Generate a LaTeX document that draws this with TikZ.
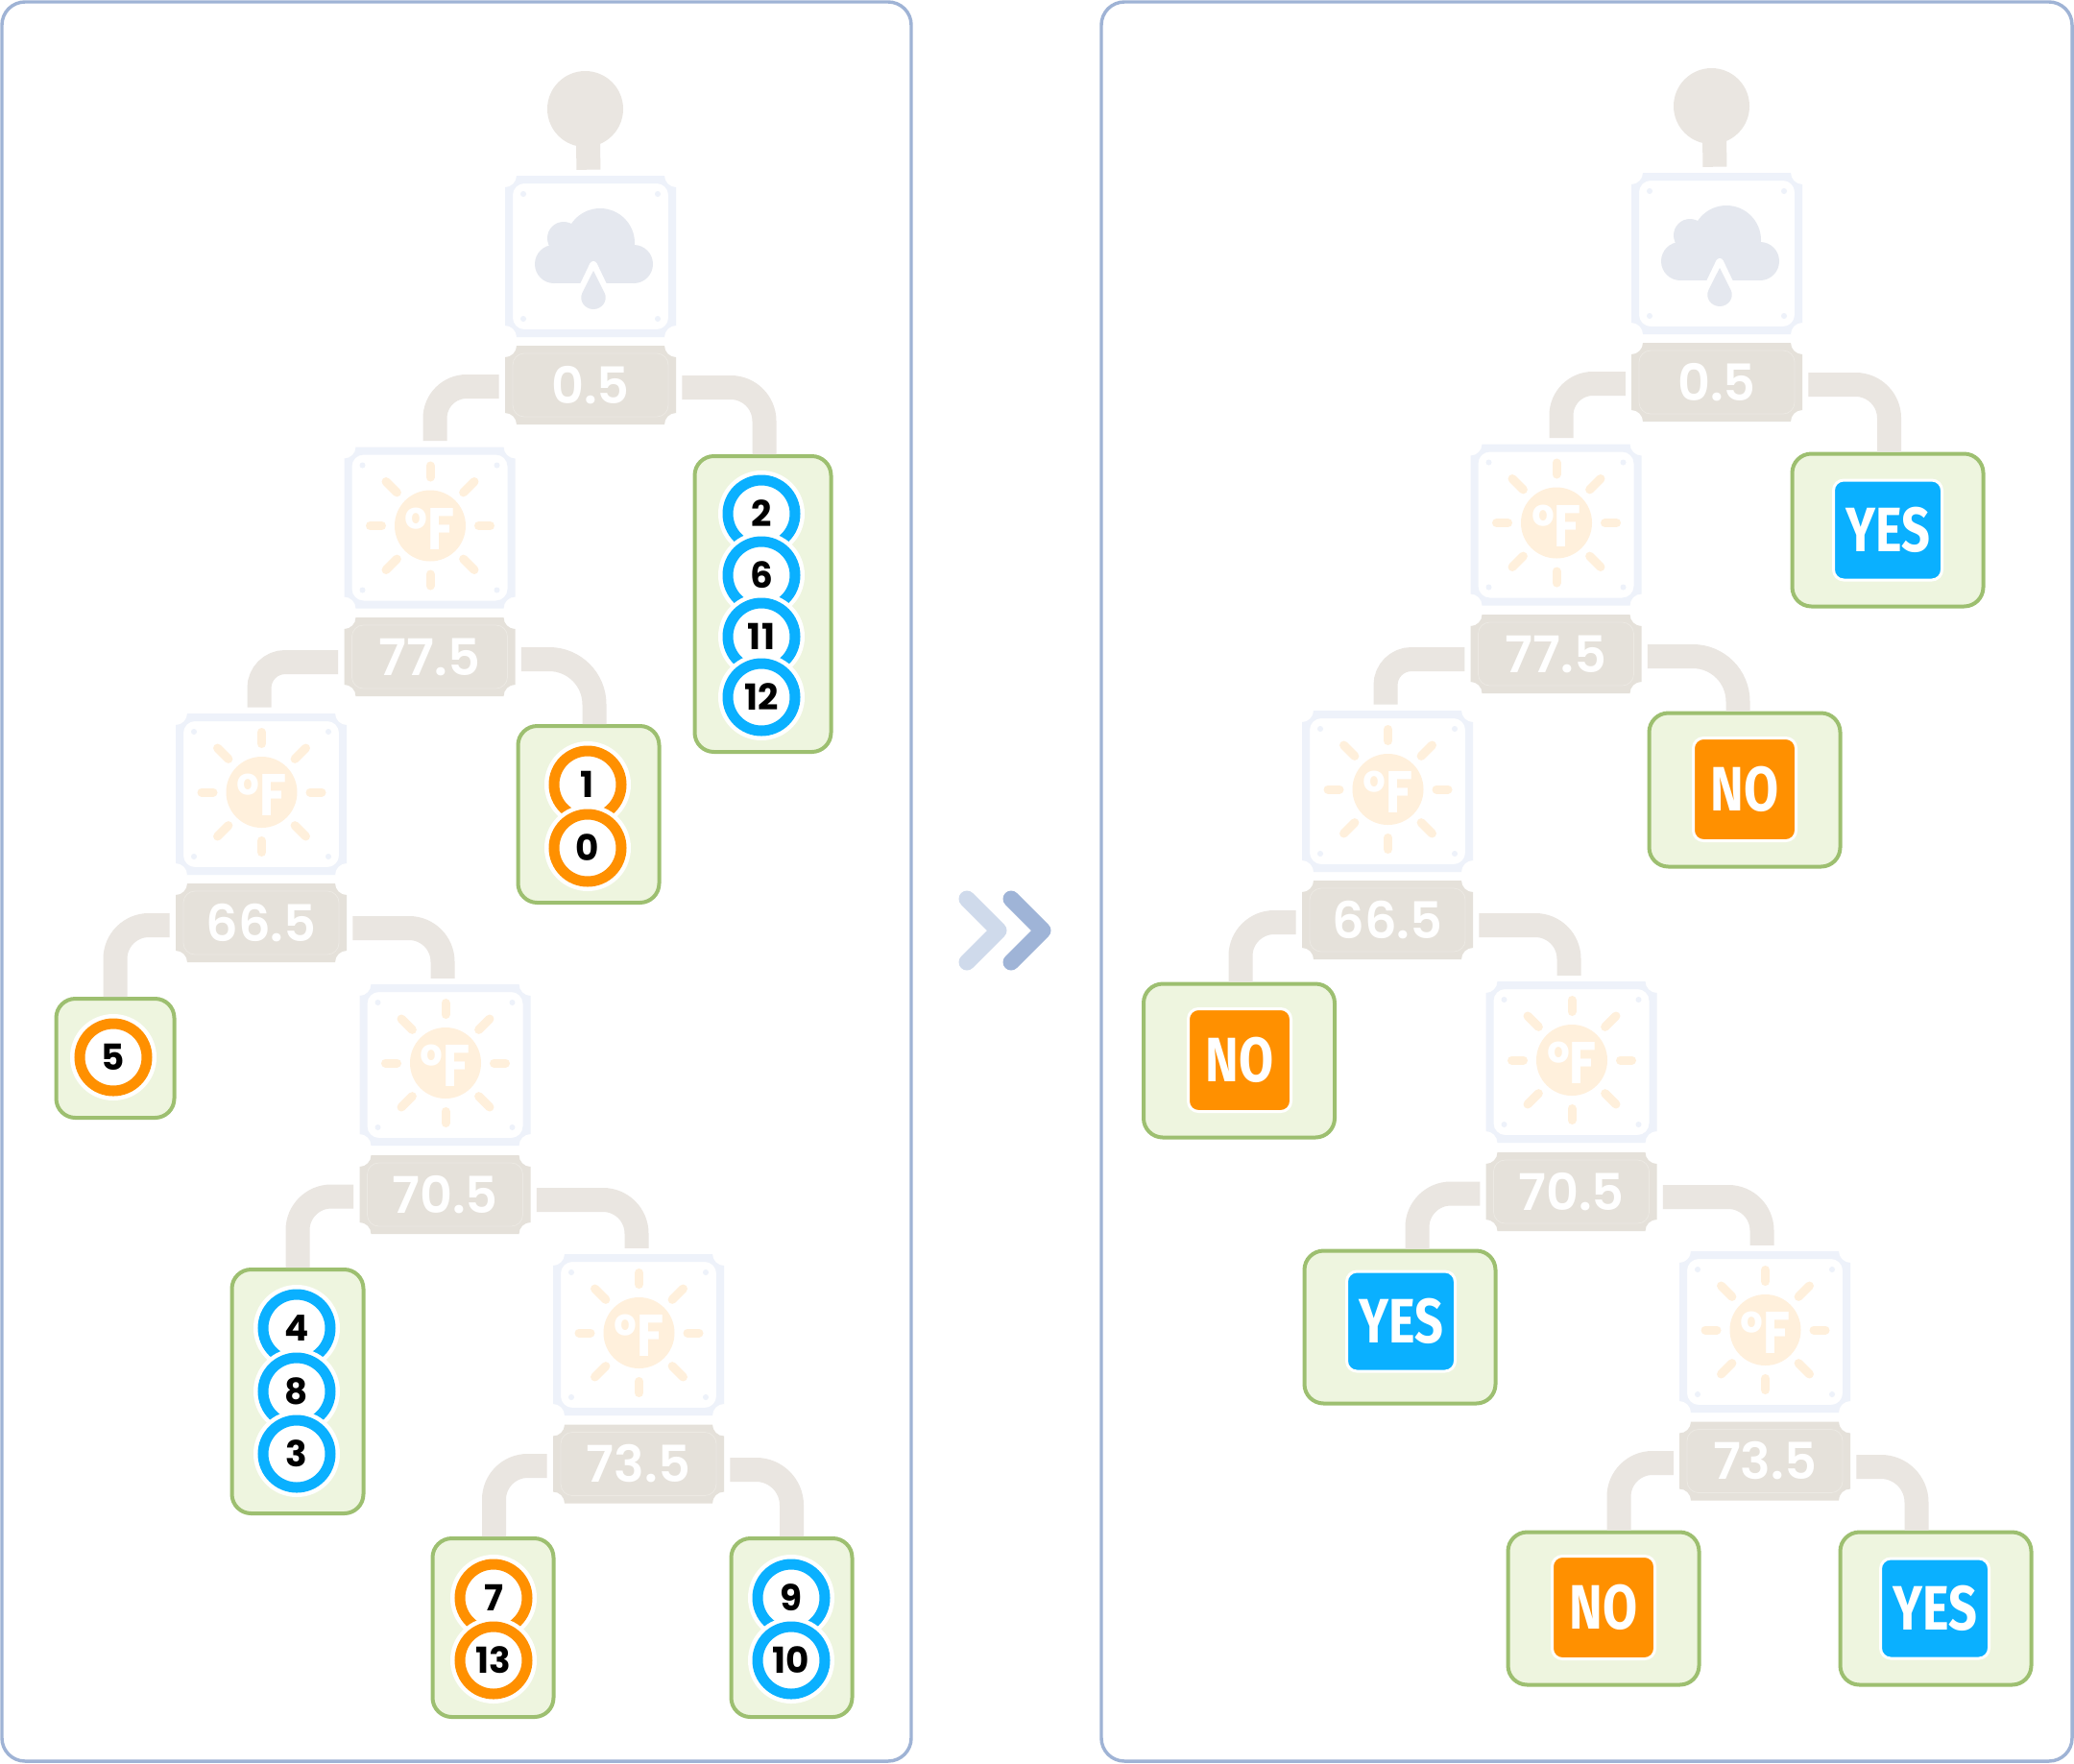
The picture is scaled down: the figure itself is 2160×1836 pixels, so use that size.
\documentclass[tikz,border=0pt]{standalone}
\usepackage{fontspec}
\setmainfont{Poppins}
\newfontfamily\chipfont[FakeStretch=0.8]{Fira Sans}
\newfontfamily\thrfont{Poppins SemiBold}
\newfontfamily\sunfont[FakeStretch=0.84]{Poppins}
\definecolor{panelc}{HTML}{9FB3D5}
\definecolor{connc}{HTML}{EAE6E1}
\definecolor{thrc}{HTML}{E5E1DA}
\definecolor{thrline}{HTML}{ECE9E3}
\definecolor{framec}{HTML}{EEF2FA}
\definecolor{cloudc}{HTML}{E5E8EF}
\definecolor{sunc}{HTML}{FFF0DC}
\definecolor{leafc}{HTML}{9DBF70}
\definecolor{leaffill}{HTML}{EEF5DF}
\definecolor{yesc}{HTML}{0AB0FF}
\definecolor{noc}{HTML}{FF9000}
\definecolor{chevA}{HTML}{CFDAEB}
\definecolor{chevB}{HTML}{9FB4D7}
\tikzset{
  x=0.75pt,y=-0.75pt,
  panel/.style={draw=panelc,line width=2.6pt,rounded corners=18pt,fill=white},
  conn/.style={draw=connc,line width=18.75pt},
  stem/.style={draw=connc,line width=18.75pt},
  rootc/.style={circle,fill=connc,minimum size=59.25pt,inner sep=0pt},
  blank/.style={rectangle,minimum width=133.5pt,inner sep=0pt},
  thrtext/.style={blank,minimum height=61.5pt,text=white,font=\fontsize{39.5}{39.5}\thrfont},
  leaf/.style={rectangle,draw=leafc,fill=leaffill,line width=3pt,rounded corners=15pt,inner sep=0pt},
  samp/.style={circle,draw=#1,line width=8.25pt,fill=white,minimum size=52.5pt,inner sep=0pt,
    text=black,font=\fontsize{28}{28}\selectfont\bfseries,
    preaction={draw=white,line width=15pt}},
  chipbase/.style={rectangle,draw=white,line width=2.25pt,rounded corners=8pt,inner sep=0pt,
    text=white,font=\fontsize{49}{49}\chipfont\bfseries},
  yeschip/.style={chipbase,fill=yesc,minimum width=84.75pt,minimum height=78pt},
  nochip/.style={chipbase,fill=noc,minimum width=80.25pt,minimum height=80.25pt},
  chev/.style={line width=12.75pt,line cap=round,line join=round},
}
\newcommand\NotchPath[2]{({-#1+12},{-#2}) -- ({#1-12},{-#2}) .. controls ({#1-12},{-#2+6.6}) and ({#1-6.6},{-#2+12}) .. ({#1},{-#2+12}) -- ({#1},{#2-12}) .. controls ({#1-6.6},{#2-12}) and ({#1-12},{#2-6.6}) .. ({#1-12},{#2}) -- ({-#1+12},{#2}) .. controls ({-#1+12},{#2-6.6}) and ({-#1+6.6},{#2-12}) .. ({-#1},{#2-12}) -- ({-#1},{-#2+12}) .. controls ({-#1+6.6},{-#2+12}) and ({-#1+12},{-#2+6.6}) .. ({-#1+12},{-#2}) -- cycle}
\newcommand\DecFrame[3]{%
  \node[blank,minimum height=126pt] (#1) at (#2,#3) {};
  \begin{scope}[shift={(#2,#3)}]
    \fill[framec,even odd rule] \NotchPath{89}{84} [rounded corners=9pt] (-81,-76) rectangle (81,76);
    \foreach \dx in {-70,70}\foreach \dy in {-65,65}{\fill[framec] (\dx,\dy) circle[radius=3];}
  \end{scope}}
\newcommand\CloudBox[3]{%
  \DecFrame{#1}{#2}{#3}
  \begin{scope}[shift={(#2,#3)}]
    \fill[cloudc] (-28,-19) circle[radius=17] (10,-14) circle[radius=36]
      (-38,8) circle[radius=20] (45,8) circle[radius=20];
    \fill[cloudc] (-38,-8) rectangle (45,28);
    \draw[white,line width=6pt,line join=round,fill=white] (3,9) -- (14,32) -- (-8,32) -- cycle;
    \fill[cloudc] (3,15) -- (14.6,38) .. controls (18.5,46) and (12,55) .. (3,55) .. controls (-6,55) and (-12.5,46) .. (-8.6,38) -- cycle;
  \end{scope}}
\newcommand\SunBox[3]{%
  \DecFrame{#1}{#2}{#3}
  \begin{scope}[shift={(#2,#3)},shift={(0.5,-2)}]
    \fill[sunc] (0,0) circle[radius=37];
    \foreach \a in {0,90,180,270}{\draw[sunc,line width=6.75pt,line cap=round] ({50.5*cos(\a)},{50.5*sin(\a)}) -- ({62.5*cos(\a)},{62.5*sin(\a)});}
    \foreach \a in {45,135,225,315}{\draw[sunc,line width=6.75pt,line cap=round] ({49*cos(\a)},{49*sin(\a)}) -- ({65*cos(\a)},{65*sin(\a)});}
    \node[text=white,inner sep=0pt,font=\fontsize{46}{46}\sunfont\bfseries] (#1icon) at (0,3) {°F};
  \end{scope}}
\newcommand\ThrNode[4]{%
  \begin{scope}[shift={(#2,#3)}]
    \fill[thrc] \NotchPath{89}{41};
    \draw[thrline,line width=0.6pt,rounded corners=9pt] (-81,-33) rectangle (81,33);
  \end{scope}
  \node[thrtext] (#1) at (#2,#3) {\raisebox{-1.2pt}{#4}};}
% from-node, anchor, dx, dy (down), to-node, dx, lift, radius
\newcommand\Conn[8]{\draw[conn,rounded corners=#8*0.75pt] ([xshift=#3*0.75pt,yshift=-#4*0.75pt]#1.#2) -| ([xshift=#6*0.75pt,yshift=#7*0.75pt]#5.north);}
\newcommand\Leaf[5]{\node[leaf,minimum width=#4*0.75pt,minimum height=#5*0.75pt] (#1) at (#2,#3) {};}
\begin{document}
\begin{tikzpicture}
\useasboundingbox (0,0) rectangle (2160,1836);
\fill[white] (0,0) rectangle (2160,1836);
\draw[panel] (2,2) rectangle (949,1834);
\draw[panel] (1147,2) rectangle (2158,1834);
\draw[chev,chevA] (1007,936) -- (1040,969) -- (1007,1002);
\draw[chev,chevB] (1053,936) -- (1086,969) -- (1053,1002);

% ---------- left tree ----------
\CloudBox{la}{615}{267}
\ThrNode{lta}{615}{401}{0.5}
\SunBox{lb}{447.5}{549.5}
\ThrNode{ltb}{447.5}{684}{77.5}
\SunBox{lc}{272}{827}
\ThrNode{ltc}{272}{961}{66.5}
\SunBox{ld}{463.5}{1109}
\ThrNode{ltd}{463.5}{1244}{70.5}
\SunBox{le}{665}{1390}
\ThrNode{lte}{665}{1524.5}{73.5}
\node[rootc] (lroot) at (609.5,113.5) {};
\draw[stem] ([xshift=2.25pt]lroot.center) -- ([xshift=-1.65pt,yshift=4.5pt]la.north);

\Leaf{l1}{794.5}{629}{142}{308}
\Leaf{l2}{613}{848}{147}{184}
\Leaf{l3}{120}{1102}{123}{124}
\Leaf{l4}{310}{1449}{137}{254}
\Leaf{l5}{513.5}{1695}{126}{186}
\Leaf{l6}{824.5}{1695}{126}{186}

\Conn{lta}{west}{-6}{1.5}{lb}{5.5}{6}{33}
\Conn{lta}{east}{6}{2.5}{l1}{1.5}{0}{35}
\Conn{ltb}{west}{-6}{5.5}{lc}{-2}{6}{27}
\Conn{ltb}{east}{6}{2.5}{l2}{6}{0}{47}
\Conn{ltc}{west}{-6}{2.5}{l3}{0}{0}{35}
\Conn{ltc}{east}{6}{5.5}{ld}{-2.5}{6}{35}
\Conn{ltd}{west}{-6}{2}{l4}{0}{0}{35}
\Conn{ltd}{east}{6}{5.5}{le}{-2}{6}{35}
\Conn{lte}{west}{-6}{2}{l5}{1}{0}{35}
\Conn{lte}{east}{6}{6}{l6}{0}{0}{37}

\node[samp=yesc] (s2) at (793,535) {2};
\node[samp=yesc] (s6) at (793,599) {6};
\node[samp=yesc] (s11) at (793,663) {11};
\node[samp=yesc] (s12) at (793,726) {12};
\node[samp=noc] (s1) at (612,817) {1};
\node[samp=noc] (s0) at (612,883) {0};
\node[samp=noc] (s5) at (118,1101) {5};
\node[samp=yesc] (s4) at (309,1383) {4};
\node[samp=yesc] (s8) at (309,1449) {8};
\node[samp=yesc] (s3) at (309,1514) {3};
\node[samp=noc] (s7) at (514,1664) {7};
\node[samp=noc] (s13) at (514,1729) {13};
\node[samp=yesc] (s9) at (824,1664) {9};
\node[samp=yesc] (s10) at (824,1729) {10};

% ---------- right tree ----------
\CloudBox{ra}{1788}{264}
\ThrNode{rta}{1788}{398}{0.5}
\SunBox{rb}{1620.5}{546.5}
\ThrNode{rtb}{1620.5}{681}{77.5}
\SunBox{rc}{1445}{824}
\ThrNode{rtc}{1445}{958}{66.5}
\SunBox{rd}{1636.5}{1106}
\ThrNode{rtd}{1636.5}{1241}{70.5}
\SunBox{re}{1838}{1387}
\ThrNode{rte}{1838}{1521.5}{73.5}
\node[rootc] (rroot) at (1782.5,110.5) {};
\draw[stem] ([xshift=2.25pt]rroot.center) -- ([xshift=-1.65pt,yshift=4.5pt]ra.north);

\Leaf{r1}{1966}{552}{199}{159}
\Leaf{r2}{1817}{822.5}{199}{160}
\Leaf{r3}{1290.5}{1104.5}{199}{160}
\Leaf{r4}{1458}{1382}{199}{159}
\Leaf{r5}{1670}{1675}{199}{159}
\Leaf{r6}{2016}{1675}{199}{159}

\Conn{rta}{west}{-6}{1.5}{rb}{5.5}{6}{33}
\Conn{rta}{east}{6}{2.5}{r1}{1.5}{0}{35}
\Conn{rtb}{west}{-6}{5.5}{rc}{-2}{6}{27}
\Conn{rtb}{east}{6}{2.5}{r2}{-7}{0}{47}
\Conn{rtc}{west}{-6}{2.5}{r3}{1.5}{0}{35}
\Conn{rtc}{east}{6}{5.5}{rd}{-2.5}{6}{35}
\Conn{rtd}{west}{-6}{2}{r4}{18}{0}{35}
\Conn{rtd}{east}{6}{5.5}{re}{-3}{6}{35}
\Conn{rte}{west}{-6}{2}{r5}{16}{0}{35}
\Conn{rte}{east}{6}{6}{r6}{-20}{0}{37}

\node[yeschip] (c1) at (1966,552) {YES};
\node[nochip] (c2) at (1817,822) {NO};
\node[nochip] (c3) at (1291,1104) {NO};
\node[yeschip] (c4) at (1459,1376) {YES};
\node[nochip] (c5) at (1670,1674) {NO};
\node[yeschip] (c6) at (2015,1675) {YES};
\end{tikzpicture}
\end{document}
